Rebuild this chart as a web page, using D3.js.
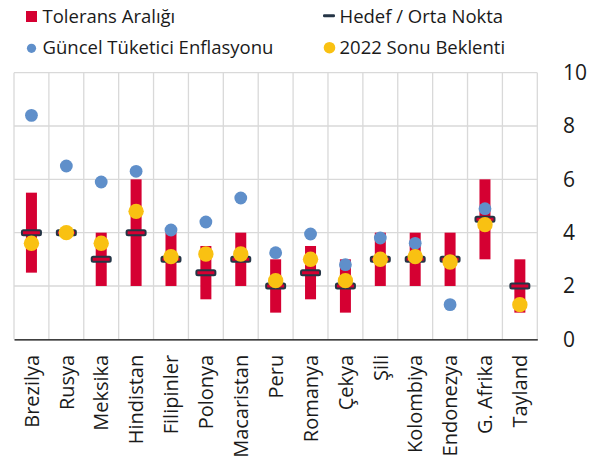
<!DOCTYPE html>
<html>
<head>
<meta charset="utf-8">
<script src="https://cdn.jsdelivr.net/npm/d3@7"></script>
<style>
  body { margin: 0; background: #fff; }
  text { font-family: "Open Sans", sans-serif; fill: #1a1a1a; }
</style>
</head>
<body>
<div id="chart"></div>
<script>
// Data
var countries = ["Brezilya", "Rusya", "Meksika", "Hindistan", "Filipinler", "Polonya", "Macaristan",
    "Peru", "Romanya", "Çekya", "Şili", "Kolombiya", "Endonezya", "G. Afrika", "Tayland"];
var bandLow  = [2.5, null, 2, 2, 2, 1.5, 2, 1, 1.5, 1, 2, 2, 2, 3, 1];
var bandHigh = [5.5, null, 4, 6, 4, 3.5, 4, 3, 3.5, 3, 4, 4, 4, 6, 3];
var target   = [4, 4, 3, 4, 3, 2.5, 3, 2, 2.5, 2, 3, 3, 3, 4.5, 2];
var current  = [8.4, 6.5, 5.9, 6.3, 4.1, 4.4, 5.3, 3.25, 3.95, 2.8, 3.8, 3.6, 1.3, 4.9, null];
var expected = [3.6, 4.0, 3.6, 4.8, 3.1, 3.2, 3.2, 2.2, 3.0, 2.2, 3.0, 3.1, 2.9, 4.3, 1.3];
var yTicks = [0, 2, 4, 6, 8, 10];

var legendItems = [
    { label: "Tolerans Aralığı", type: "rect", x: 26, y: 22.5 },
    { label: "Hedef / Orta Nokta", type: "dash", x: 323, y: 22.5 },
    { label: "Güncel Tüketici Enflasyonu", type: "blue", x: 26, y: 54 },
    { label: "2022 Sonu Beklenti", type: "yellow", x: 323, y: 54 }
];

var red = "#d50032", blue = "#5f8fca", yellow = "#f9c112", navy = "#253546", grid = "#d9d9d9";

var w = 608, h = 469;
// plot area (note: "top" is reserved on window, so use plot* names)
var plotLeft = 14, plotRight = 537.3, plotTop = 72.7, plotBottom = 339.3;

var svg = d3.select("#chart").append("svg")
    .attr("width", w)
    .attr("height", h);

var x = d3.scaleBand()
    .domain(countries)
    .range([plotLeft, plotRight])
    .padding(0);

var y = d3.scaleLinear()
    .domain([0, 10])
    .range([plotBottom, plotTop]);

// horizontal gridlines
svg.append("g").selectAll("line")
    .data(yTicks.filter(function(d) { return d > 0; }))
    .enter().append("line")
    .attr("x1", plotLeft).attr("x2", plotRight)
    .attr("y1", function(d) { return y(d); })
    .attr("y2", function(d) { return y(d); })
    .attr("stroke", grid).attr("stroke-width", 1.3);

// vertical gridlines between categories
var edges = countries.map(function(c) { return x(c); }).concat([plotRight]);
svg.append("g").selectAll("line")
    .data(edges)
    .enter().append("line")
    .attr("x1", function(d) { return d; }).attr("x2", function(d) { return d; })
    .attr("y1", plotTop).attr("y2", plotBottom)
    .attr("stroke", grid).attr("stroke-width", 1.3);

// y axis on the right
var yAxis = svg.append("g")
    .attr("transform", "translate(553,0)")
    .call(d3.axisRight(y).tickValues(yTicks).tickSize(0).tickPadding(10));
yAxis.select(".domain").remove();
yAxis.selectAll("text")
    .style("font-size", "21px")
    .attr("fill", "#1a1a1a");

// x axis
var xAxis = svg.append("g")
    .attr("transform", "translate(0," + plotBottom + ")")
    .call(d3.axisBottom(x).tickSize(0));
xAxis.select(".domain")
    .attr("stroke", "#000").attr("stroke-width", 1.3);
xAxis.selectAll("text")
    .style("font-size", "20px")
    .attr("fill", "#1a1a1a")
    .attr("transform", "rotate(-90)")
    .attr("text-anchor", "end")
    .attr("x", -15.5)
    .attr("y", 0)
    .attr("dy", "0.36em");

var bw = 11;
var idx = d3.range(countries.length);

// tolerance bands
svg.append("g").selectAll("rect")
    .data(idx.filter(function(i) { return bandLow[i] !== null; }))
    .enter().append("rect")
    .attr("x", function(i) { return x(countries[i]) + x.bandwidth() / 2 - bw / 2; })
    .attr("y", function(i) { return y(bandHigh[i]); })
    .attr("width", bw)
    .attr("height", function(i) { return y(bandLow[i]) - y(bandHigh[i]); })
    .attr("fill", red);

// target markers
svg.append("g").selectAll("rect")
    .data(idx)
    .enter().append("rect")
    .attr("x", function(i) { return x(countries[i]) + x.bandwidth() / 2 - 9.5; })
    .attr("y", function(i) { return y(target[i]) - 2.5; })
    .attr("width", 19)
    .attr("height", 5)
    .attr("rx", 1.5)
    .attr("fill", red)
    .attr("stroke", navy)
    .attr("stroke-width", 2);

// current inflation
svg.append("g").selectAll("circle")
    .data(idx.filter(function(i) { return current[i] !== null; }))
    .enter().append("circle")
    .attr("cx", function(i) { return x(countries[i]) + x.bandwidth() / 2; })
    .attr("cy", function(i) { return y(current[i]); })
    .attr("r", 6.4)
    .attr("fill", blue);

// 2022 expectation
svg.append("g").selectAll("circle")
    .data(idx)
    .enter().append("circle")
    .attr("cx", function(i) { return x(countries[i]) + x.bandwidth() / 2; })
    .attr("cy", function(i) { return y(expected[i]); })
    .attr("r", 7.7)
    .attr("fill", yellow);

// legend
var lg = svg.append("g").selectAll("g")
    .data(legendItems)
    .enter().append("g")
    .attr("transform", function(d) { return "translate(" + d.x + "," + d.y + ")"; });

lg.each(function(d) {
    var g = d3.select(this);
    if (d.type === "rect") {
        g.append("rect").attr("x", 0).attr("y", -11.5).attr("width", 11).attr("height", 11).attr("fill", red);
    } else if (d.type === "dash") {
        g.append("rect").attr("x", 0).attr("y", -8.3).attr("width", 12).attr("height", 3).attr("rx", 1.2).attr("fill", navy);
    } else if (d.type === "blue") {
        g.append("circle").attr("cx", 5.5).attr("cy", -5.7).attr("r", 4.6).attr("fill", blue);
    } else {
        g.append("circle").attr("cx", 6.5).attr("cy", -6.3).attr("r", 5.8).attr("fill", yellow);
    }
    g.append("text")
        .attr("x", 16.5)
        .attr("y", 0)
        .style("font-size", "18.5px")
        .text(d.label);
});
</script>
</body>
</html>
